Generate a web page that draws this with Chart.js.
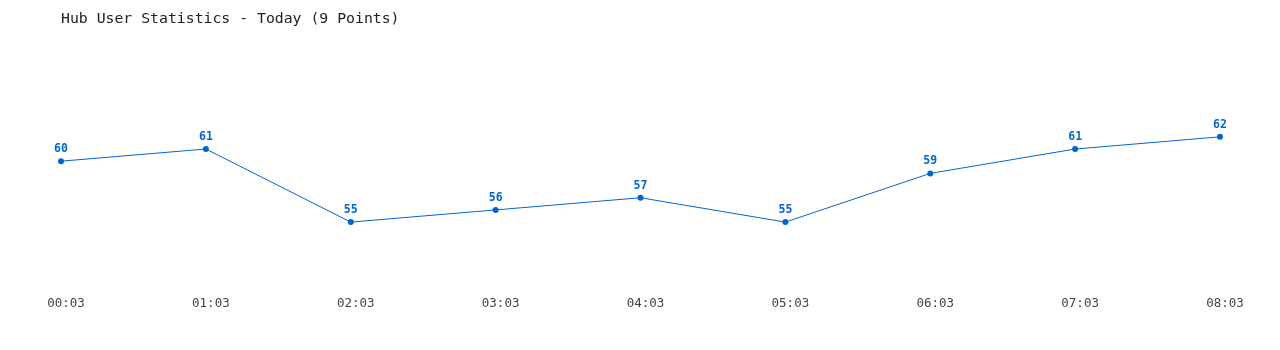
<!DOCTYPE html>
<html>
<head>
<meta charset="utf-8">
<script src="https://cdn.jsdelivr.net/npm/chart.js@4/dist/chart.umd.min.js"></script>
<style>
  html, body { margin: 0; padding: 0; background: #fff; }
  #wrap { width: 1280px; height: 350px; }
</style>
</head>
<body>
<div id="wrap"><canvas id="chart"></canvas></div>
<script>
const titleText = 'Hub User Statistics - Today (9 Points)';
const timeLabels = ['00:03', '01:03', '02:03', '03:03', '04:03', '05:03', '06:03', '07:03', '08:03'];
const userCounts = [60, 61, 55, 56, 57, 55, 59, 61, 62];

const BLUE = '#0066cc';
const MONO = '"DejaVu Sans Mono", "Liberation Mono", monospace';

// writes the value above every point
const valueLabels = {
    id: 'valueLabels',
    afterDatasetsDraw(chart) {
        const ctx = chart.ctx;
        const meta = chart.getDatasetMeta(0);
        ctx.save();
        ctx.fillStyle = BLUE;
        ctx.font = 'bold 11.5px ' + MONO;
        ctx.textAlign = 'center';
        ctx.textBaseline = 'alphabetic';
        meta.data.forEach((pt, i) => {
            ctx.fillText(String(chart.data.datasets[0].data[i]), pt.x, pt.y - 9);
        });
        ctx.restore();
    }
};

new Chart(document.getElementById('chart'), {
    type: 'line',
    data: {
        labels: timeLabels,
        datasets: [{
            data: userCounts,
            borderColor: BLUE,
            backgroundColor: BLUE,
            borderWidth: 1,
            pointRadius: 3,
            pointHoverRadius: 3,
            pointBorderWidth: 0,
            tension: 0,
            fill: false
        }]
    },
    options: {
        responsive: true,
        maintainAspectRatio: false,
        animation: false,
        layout: {
            padding: { left: 61, right: 60, top: 0, bottom: 26 }
        },
        plugins: {
            legend: { display: false },
            tooltip: { enabled: false },
            title: {
                display: true,
                text: titleText,
                align: 'start',
                color: '#222',
                font: { family: MONO, size: 14.8, weight: 'normal', lineHeight: 1.2 },
                padding: { top: 10, bottom: 36 }
            }
        },
        scales: {
            x: {
                offset: false,
                grid: { display: false, drawTicks: false },
                border: { display: false },
                ticks: {
                    color: '#444',
                    font: { family: MONO, size: 12.5, lineHeight: 1.2 },
                    padding: 13,
                    labelOffset: 5,
                    maxRotation: 0,
                    autoSkip: false
                }
            },
            y: {
                display: false,
                min: 50,
                max: 68
            }
        }
    },
    plugins: [valueLabels]
});
</script>
</body>
</html>
